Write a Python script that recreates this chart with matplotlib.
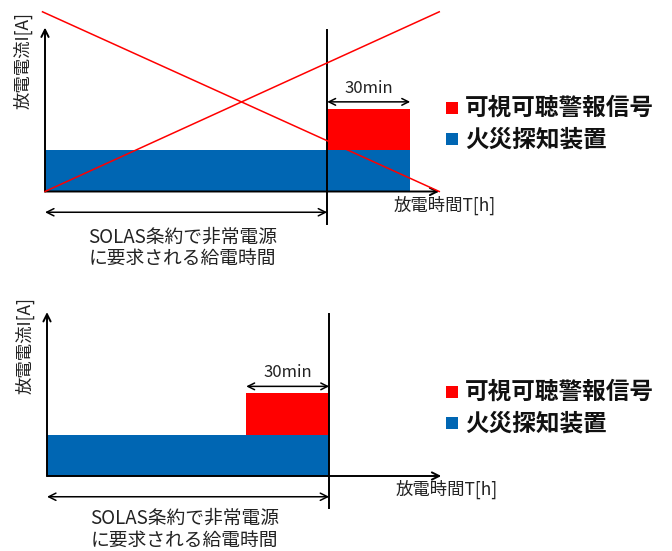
import matplotlib
matplotlib.use("Agg")
import matplotlib.pyplot as plt
from matplotlib.patches import Rectangle

plt.rcParams['font.family'] = ['Noto Sans CJK JP', 'DejaVu Sans']

# ---- schematic quantities (arbitrary units) ----
supply_span = 3.4        # SOLAS-required emergency supply time
alarm_span = 1.0         # 30 min alarm period
detector_current = 1.0   # fire detection equipment load
alarm_current = 1.0      # visual/audible alarm load

# start of the alarm block in each scenario
alarm_start_wrong = [supply_span]                 # alarm after the supply period (crossed out)
alarm_start_right = [supply_span - alarm_span]    # alarm within the last 30 min

legend_labels = ['可視可聴警報信号', '火災探知装置']
legend_colors = ['#FF0000', '#0066B3']
ylabel = '放電電流I[A]'
xlabel = '放電時間T[h]'
span_lines = ['SOLAS条約で非常電源', 'に要求される給電時間']
alarm_label = '30min'

# axis arrow extents and cross-out line extents (schematic)
t_axis_max = 4.75
i_axis_max = 3.95
cross_t = [-0.03, 4.75]
cross_i = [0.0, 4.33]

W, H = 672, 551
PX_T = 83.0    # pixels per time unit
PX_I = 41.5    # pixels per current unit

fig = plt.figure(figsize=(W / 100, H / 100), dpi=100)

RED, BLUE = legend_colors


def make_panel(top_px, bottom_px, ox, oy):
    ax = fig.add_axes([0, 1 - bottom_px / H, 1, (bottom_px - top_px) / H])
    ax.set_xlim(-ox / PX_T, (W - ox) / PX_T)
    ax.set_ylim(-(bottom_px - oy) / PX_I, (oy - top_px) / PX_I)
    ax.axis('off')
    return ax


def draw_panel(ax, alarm_start, blue_end, crossed, legend_y, text_y):
    # stacked loads
    ax.bar([0], [detector_current], width=[blue_end], align='edge',
           color=BLUE, linewidth=0, zorder=2)
    ax.bar(alarm_start, [alarm_current], width=[alarm_span], bottom=[detector_current],
           align='edge', color=RED, linewidth=0, zorder=2)

    # axes arrows
    ax.annotate('', xy=(0, i_axis_max), xytext=(0, 0),
                arrowprops=dict(arrowstyle='->', color='black', lw=1.4,
                                mutation_scale=13, shrinkA=0, shrinkB=0), zorder=4)
    ax.annotate('', xy=(t_axis_max, 0), xytext=(0, 0),
                arrowprops=dict(arrowstyle='->', color='black', lw=1.4,
                                mutation_scale=13, shrinkA=0, shrinkB=0), zorder=4)

    # end of required supply period
    ax.plot([supply_span, supply_span], [-0.78, 3.9], color='black', lw=1.4, zorder=4)

    # supply span arrow
    ax.annotate('', xy=(0, -0.5), xytext=(supply_span, -0.5),
                arrowprops=dict(arrowstyle='<->', color='black', lw=1.1,
                                mutation_scale=13, shrinkA=0, shrinkB=0))
    for line, ty in zip(span_lines, text_y):
        ax.text(supply_span / 2 - 0.04, ty, line, ha='center', va='center',
                fontsize=13.5, color='#222222')

    # 30 min arrow
    a0 = alarm_start[0]
    ax.annotate('', xy=(a0, 2.16), xytext=(a0 + alarm_span, 2.16),
                arrowprops=dict(arrowstyle='<->', color='black', lw=1.1,
                                mutation_scale=12, shrinkA=0, shrinkB=0))
    ax.text(a0 + alarm_span / 2, 2.28, alarm_label, ha='center', va='bottom',
            fontsize=12, color='#222222')

    # axis labels
    ax.text(-0.27, 3.15, ylabel, rotation=90, ha='center', va='center',
            fontsize=12.5, color='#222222')
    ax.text(4.2, -0.33, xlabel, ha='left', va='center',
            fontsize=12.5, color='#222222')

    if crossed:
        ax.plot(cross_t, cross_i[::-1], color=RED, lw=1.1, zorder=5)
        ax.plot([0, cross_t[1]], cross_i, color=RED, lw=1.1, zorder=5)

    # legend
    for k, (lab, col) in enumerate(zip(legend_labels, legend_colors)):
        yc = legend_y[k]
        fig.add_artist(Rectangle((446 / W, 1 - (yc + 6) / H), 12 / W, 12 / H,
                                 transform=fig.transFigure, color=col, linewidth=0))
        fig.text(465 / W, 1 - yc / H, lab, ha='left', va='center',
                 fontsize=17, fontweight='bold', color='#111111')


ax_top = make_panel(0, 280, 45, 191.5)
draw_panel(ax_top, alarm_start_wrong, supply_span + alarm_span, True,
           [108, 139], [-1.10, -1.61])

ax_bot = make_panel(280, 551, 47, 476)
draw_panel(ax_bot, alarm_start_right, supply_span, False,
           [392, 423], [-1.02, -1.54])

fig.savefig('out.png', dpi=100)
